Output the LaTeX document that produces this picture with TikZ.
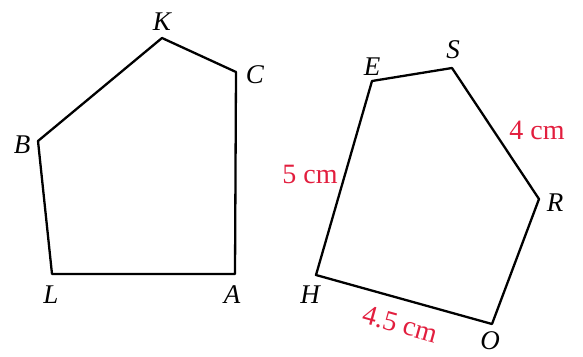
\documentclass[tikz,border=0pt]{standalone}
\usepackage{fontspec}
\setmainfont{Liberation Serif}
\definecolor{lblred}{RGB}{226,30,62}
\begin{document}
\begin{tikzpicture}[x=1pt,y=-1pt,
  edge/.style={line width=2.3pt, line join=round, line cap=round},
  vlabel/.style={font=\fontsize{27}{30}\selectfont\itshape, inner sep=0pt},
  mlabel/.style={font=\fontsize{28}{31}\selectfont, text=lblred, inner sep=0pt}]
\useasboundingbox (0,0) rectangle (583,356);
% left pentagon
\coordinate (K) at (162,38);
\coordinate (C) at (236,72);
\coordinate (A) at (235,274);
\coordinate (L) at (52,274);
\coordinate (B) at (38,141);
\draw[edge] (K) -- (C) -- (A) -- (L) -- (B) -- cycle;
\node[vlabel] (lK) at (162,22) {K};
\node[vlabel] (lC) at (255,75) {C};
\node[vlabel] (lB) at (22,145) {B};
\node[vlabel] (lL) at (51,295) {L};
\node[vlabel] (lA) at (232,295) {A};
% right pentagon
\coordinate (E) at (372,81);
\coordinate (S) at (452,68);
\coordinate (R) at (539,199);
\coordinate (O) at (492,324);
\coordinate (H) at (316,275);
\draw[edge] (E) -- (S) -- (R) -- (O) -- (H) -- cycle;
\node[vlabel] (lE) at (372,67) {E};
\node[vlabel] (lS) at (453,50) {S};
\node[vlabel] (lR) at (555,203) {R};
\node[vlabel] (lH) at (310,295) {H};
\node[vlabel] (lO) at (490,341) {O};
% measures
\node[mlabel] (m1) at (537,130) {4 cm};
\node[mlabel] (m2) at (310,174) {5 cm};
\node[mlabel, rotate=-15.6] (m3) at (400,324) {4.5 cm};
\end{tikzpicture}
\end{document}
